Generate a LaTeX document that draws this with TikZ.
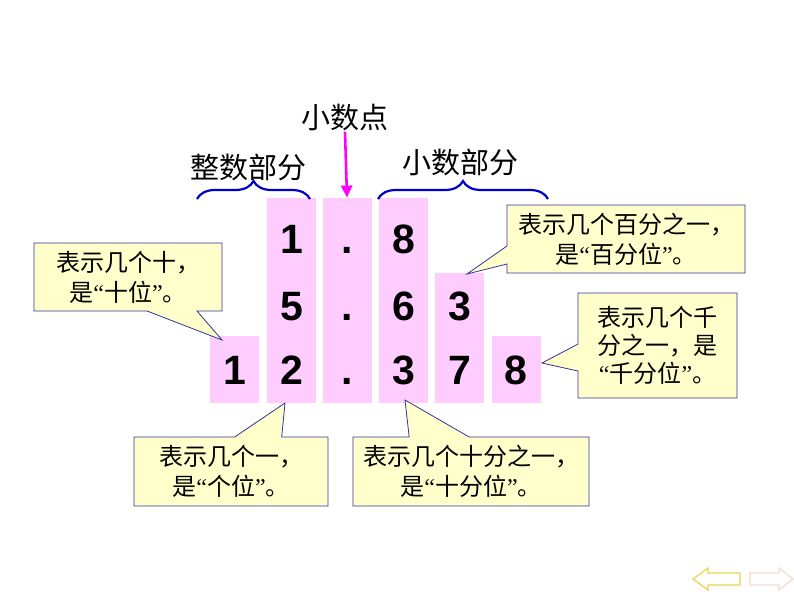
\documentclass[tikz,border=0pt]{standalone}
\usepackage{fontspec}
\setmainfont{Liberation Sans}
\newfontfamily\cjk{Noto Sans CJK SC}
\newfontfamily\quotefont{Liberation Serif}
\newcommand{\oq}{{\quotefont “}}
\newcommand{\cq}{{\quotefont ”}}
\usetikzlibrary{shapes.callouts, arrows.meta, decorations.pathreplacing}
\definecolor{colpink}{HTML}{FFCCFF}
\definecolor{notefill}{HTML}{FFFFCC}
\definecolor{noteline}{HTML}{333399}
\definecolor{braceblue}{HTML}{0000CC}
\definecolor{pointmagenta}{HTML}{FF00FF}
\definecolor{navgold}{HTML}{E8D44D}
\definecolor{navpeach}{HTML}{F2DCC8}

\begin{document}
\begin{tikzpicture}[x=1pt, y=-1pt,
  col/.style={fill=colpink, minimum width=49pt, inner sep=0pt, anchor=south},
  digit/.style={font=\fontsize{41}{41}\selectfont\bfseries, anchor=base, inner sep=0pt},
  note/.style={rectangle callout, fill=notefill, draw=noteline, line width=0.8pt, align=center, font=\cjk\fontsize{24}{30}\selectfont, inner sep=2pt},
  head/.style={font=\cjk\fontsize{29}{29}\selectfont, inner sep=0pt},
  partbrace/.style={draw=braceblue, line width=2.2pt, decorate, decoration={brace, amplitude=18pt}}
]
\useasboundingbox (0,0) rectangle (794,596);

% columns
\node[col, minimum height=67pt] (c1) at (234.5,403) {};
\node[col, minimum height=205pt] (c2) at (291.5,403) {};
\node[col, minimum height=205pt] (c3) at (347,403) {};
\node[col, minimum height=205pt] (c4) at (403.5,403) {};
\node[col, minimum height=130pt] (c5) at (459.5,403) {};
\node[col, minimum height=67pt] (c6) at (516,403) {};

% digits
\node[digit] (d21) at (291.5,253) {1};
\node[digit] (p1) at (347,253) {.};
\node[digit] (d41) at (403.5,253) {8};
\node[digit] (d22) at (291.5,320) {5};
\node[digit] (p2) at (347,320) {.};
\node[digit] (d42) at (403.5,320) {6};
\node[digit] (d52) at (459.5,320) {3};
\node[digit] (d13) at (234.5,384) {1};
\node[digit] (d23) at (291.5,384) {2};
\node[digit] (p3) at (347,384) {.};
\node[digit] (d43) at (403.5,384) {3};
\node[digit] (d53) at (459.5,384) {7};
\node[digit] (d63) at (516,384) {8};

% headings and braces
\node[head] (pointlbl) at (345,118) {小数点};
\node[head] (intlbl) at (248,167) {整数部分};
\node[head] (declbl) at (460,162) {小数部分};
\coordinate (ib1) at (197,199);
\coordinate (ib2) at (310,199);
\coordinate (db1) at (378,199);
\coordinate (db2) at (548,199);
\draw[partbrace] (ib1) -- (ib2);
\draw[partbrace] (db1) -- (db2);
\draw[-{Triangle[length=12pt,width=11pt]}, pointmagenta, line width=2.6pt] (pointlbl.south) -- (c3.north);

% callouts
\node[note, minimum width=188pt, minimum height=68pt, callout pointer width=50pt, callout absolute pointer={(222,340)}] (tens) at (128,277) {表示几个十，\\是\oq 十位\cq 。};
\node[note, minimum width=194pt, minimum height=69pt, callout pointer width=47pt, callout absolute pointer={(285,403)}] (ones) at (231,471.5) {表示几个一，\\是\oq 个位\cq 。};
\node[note, minimum width=236pt, minimum height=69pt, callout pointer width=60pt, callout absolute pointer={(405,400)}] (tenths) at (471,471.5) {表示几个十分之一，\\是\oq 十分位\cq 。};
\node[note, minimum width=238pt, minimum height=68pt, callout pointer width=18pt, callout absolute pointer={(467,274)}] (hundredths) at (626,239) {表示几个百分之一，\\是\oq 百分位\cq 。};
\node[note, minimum width=159pt, minimum height=105pt, callout pointer width=27pt, callout absolute pointer={(542,363)}, font=\cjk\fontsize{24}{28}\selectfont] (thousandths) at (657.5,345.5) {表示几个千\\分之一，是\\\oq 千分位\cq 。};

% navigation arrows
\draw[navgold, line width=1.2pt] (693,579) -- (708,568) -- (708,573) -- (740,573) -- (740,585) -- (708,585) -- (708,590) -- cycle;
\draw[navpeach, line width=1.2pt] (793,579) -- (779,568) -- (779,573) -- (750,573) -- (750,585) -- (779,585) -- (779,590) -- cycle;
\end{tikzpicture}
\end{document}
